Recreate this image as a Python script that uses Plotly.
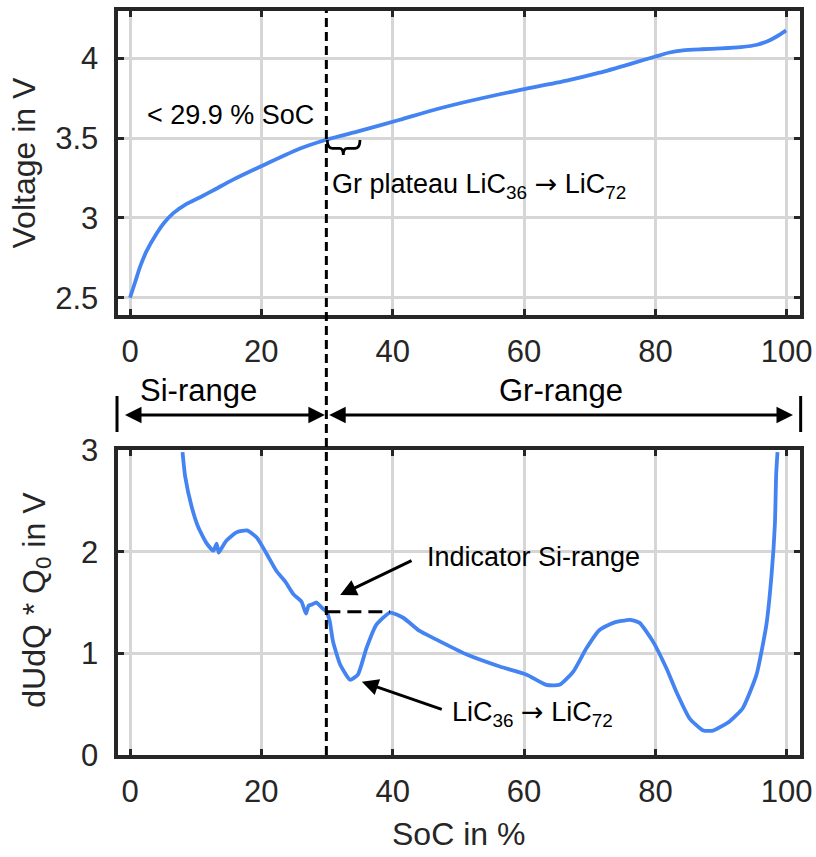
import plotly.graph_objects as go

# ---- data -------------------------------------------------------------
soc_voltage = [0.0, 0.8, 1.5, 2.5, 4.1, 5.2, 6.6, 8.5, 10.7, 13.0, 15.7, 20.8,
               25.9, 29.9, 35.0, 41.1, 46.1, 51.2, 56.3, 59.8, 66.5, 71.5,
               76.6, 79.9, 82.0, 84.2, 87.0, 90.0, 93.0, 95.5, 97.5, 99.0,
               99.9]
voltage = [2.50, 2.60, 2.69, 2.79, 2.906, 2.97, 3.03, 3.085, 3.13, 3.18, 3.24,
           3.34, 3.435, 3.49, 3.545, 3.615, 3.675, 3.728, 3.775, 3.805, 3.86,
           3.91, 3.97, 4.01, 4.035, 4.05, 4.057, 4.062, 4.07, 4.085, 4.115,
           4.15, 4.175]

soc_dudq = [8.0, 8.4, 9.4, 10.4, 11.7, 12.7, 13.2, 13.5, 13.8, 14.7, 16.2,
            17.8, 19.3, 20.8, 22.3, 23.6, 24.9, 26.1, 26.8, 27.2, 27.7, 28.4,
            29.2, 29.9, 30.4, 30.9, 32.0, 33.5, 34.7, 36.0, 37.5, 39.6, 41.6,
            44.1, 46.2, 51.2, 56.3, 60.4, 63.4, 65.4, 67.5, 69.5, 71.5, 73.6,
            76.1, 77.6, 79.6, 81.7, 83.2, 85.2, 87.3, 88.8, 91.3, 93.3, 95.4,
            96.9, 97.7, 98.2, 98.4, 98.6]
dudq = [2.98, 2.74, 2.44, 2.24, 2.08, 2.01, 2.08, 1.99, 2.02, 2.11, 2.19,
        2.21, 2.14, 1.98, 1.81, 1.71, 1.58, 1.51, 1.39, 1.47, 1.48, 1.50,
        1.45, 1.41, 1.32, 1.12, 0.89, 0.74, 0.79, 1.05, 1.28, 1.40, 1.35,
        1.22, 1.15, 0.99, 0.87, 0.79, 0.69, 0.69, 0.82, 1.05, 1.23, 1.30,
        1.33, 1.30, 1.12, 0.85, 0.62, 0.36, 0.24, 0.24, 0.33, 0.46, 0.79,
        1.28, 1.78, 2.27, 2.77, 2.98]

soc_ticks = [0, 20, 40, 60, 80, 100]
voltage_ticks = [2.5, 3, 3.5, 4]
dudq_ticks = [0, 1, 2, 3]

si_limit = 29.9          # SoC boundary between Si- and Gr-range
indicator_level = 1.41   # dUdQ value at the Si-range indicator
indicator_end = 39.6     # SoC where the indicator line ends

# ---- styling ----------------------------------------------------------
BLUE = "#4483f2"
INK = "#262626"
GRID = "#d6d6d6"
SANS = "Liberation Sans, Arial, sans-serif"
TICK_FONT = dict(family=SANS, size=31, color=INK)
TITLE_FONT = dict(family=SANS, size=32, color=INK)
NOTE_FONT = dict(family=SANS, size=27, color="black")
ARROW = '<span style="font-family:DejaVu Sans">\u2192</span>'

X_DOMAIN = [0.1440, 0.9798]
TOP_DOMAIN = [0.6324, 0.9877]
BOTTOM_DOMAIN = [0.1191, 0.4748]
X_RANGE = [-1.903, 101.95]


def axis_style(**kw):
    d = dict(
        showline=True, linewidth=4, linecolor=INK, mirror="ticks",
        ticks="inside", ticklen=6, tickwidth=2.5, tickcolor=INK,
        showgrid=True, gridcolor=GRID, gridwidth=2.5, zeroline=False,
        tickfont=TICK_FONT, fixedrange=True, automargin=False,
    )
    d.update(kw)
    return d


fig = go.Figure()
fig.add_trace(go.Scatter(
    x=soc_voltage, y=voltage, mode="lines", xaxis="x", yaxis="y",
    line=dict(color=BLUE, width=3.8, shape="spline", smoothing=0.6),
    showlegend=False, hoverinfo="skip"))
fig.add_trace(go.Scatter(
    x=soc_dudq, y=dudq, mode="lines", xaxis="x2", yaxis="y2",
    line=dict(color=BLUE, width=3.8, shape="spline", smoothing=0.5),
    showlegend=False, hoverinfo="skip"))

fig.update_layout(
    width=816, height=857, margin=dict(l=0, r=0, t=0, b=0, autoexpand=False),
    paper_bgcolor="white", plot_bgcolor="white",
    xaxis=axis_style(domain=X_DOMAIN, range=X_RANGE, tickvals=soc_ticks,
                     anchor="y", ticklabelstandoff=6),
    yaxis=axis_style(domain=TOP_DOMAIN, range=[2.3916, 4.2995],
                     tickvals=voltage_ticks, anchor="x", ticklabelstandoff=9),
    xaxis2=axis_style(domain=X_DOMAIN, range=X_RANGE, tickvals=soc_ticks,
                      anchor="y2", ticklabelstandoff=6),
    yaxis2=axis_style(domain=BOTTOM_DOMAIN, range=[0, 3],
                      tickvals=dudq_ticks, anchor="x2", ticklabelstandoff=9),
)

# Si/Gr boundary through both panels
shapes = [
    dict(type="line", xref="x", yref="paper", x0=si_limit, x1=si_limit,
         y0=BOTTOM_DOMAIN[0], y1=TOP_DOMAIN[1],
         line=dict(color="black", width=3, dash="9px,5px"), layer="above"),
    dict(type="line", xref="x2", yref="y2", x0=si_limit, x1=indicator_end,
         y0=indicator_level, y1=indicator_level,
         line=dict(color="black", width=3, dash="14px,7px"), layer="above"),
    # curly brace marking the graphite plateau
    dict(type="path", xref="x", yref="y",
         path=("M 30.04,3.488 Q 30.04,3.436 30.8,3.436 L 31.9,3.436 "
               "Q 32.48,3.436 32.48,3.394 Q 32.48,3.436 33.06,3.436 "
               "L 34.3,3.436 Q 35.02,3.436 35.02,3.488"),
         line=dict(color="black", width=2.8), layer="above"),
    # end bars of the range arrows
    dict(type="line", xref="paper", yref="paper", x0=0.1434, x1=0.1434,
         y0=0.4959, y1=0.5379, line=dict(color="black", width=3)),
    dict(type="line", xref="paper", yref="paper", x0=0.9812, x1=0.9812,
         y0=0.4959, y1=0.5379, line=dict(color="black", width=3)),
]
fig.update_layout(shapes=shapes)

ARROW_Y = 0.5158


def note(text, x, y, xref, yref, font=NOTE_FONT, xanchor="left", **kw):
    d = dict(x=x, y=y, xref=xref, yref=yref, text=text, showarrow=False,
             xanchor=xanchor, yanchor="middle", font=font)
    d.update(kw)
    return d


annotations = [
    # range arrows
    dict(x=-0.76, y=ARROW_Y, xref="x", yref="paper", ax=si_limit, ay=0,
         axref="x", ayref="pixel", text="", showarrow=True,
         arrowhead=2, arrowside="end+start", arrowsize=1.1, arrowwidth=3,
         arrowcolor="black", standoff=0, startstandoff=0),
    dict(x=100.96, y=ARROW_Y, xref="x", yref="paper", ax=si_limit + 0.2,
         ay=0, axref="x", ayref="pixel", text="", showarrow=True,
         arrowhead=2, arrowside="end+start", arrowsize=1.1, arrowwidth=3,
         arrowcolor="black", standoff=0, startstandoff=0),
    note("Si-range", 10.43, 0.5449, "x", "paper",
         font=dict(family=SANS, size=31, color="black"), xanchor="center"),
    note("Gr-range", 65.6, 0.5449, "x", "paper",
         font=dict(family=SANS, size=31, color="black"), xanchor="center"),
    # top panel notes
    note("< 29.9 % SoC", 2.28, 3.645, "x", "y"),
    note("Gr plateau LiC<sub>36</sub> " + ARROW + " LiC<sub>72</sub>",
         30.45, 3.206, "x", "y"),
    # bottom panel notes
    dict(x=32.0, y=1.575, xref="x2", yref="y2", ax=43.1, ay=1.92,
         axref="x2", ayref="y2", text="", showarrow=True, arrowhead=2,
         arrowsize=1.1, arrowwidth=3, arrowcolor="black", standoff=0),
    note("Indicator Si-range", 44.9, 1.95, "x2", "y2"),
    dict(x=35.3, y=0.72, xref="x2", yref="y2", ax=47.7, ay=0.443,
         axref="x2", ayref="y2", text="", showarrow=True, arrowhead=2,
         arrowsize=1.1, arrowwidth=3, arrowcolor="black", standoff=0),
    note("LiC<sub>36</sub> " + ARROW + " LiC<sub>72</sub>",
         48.8, 0.41, "x2", "y2"),
    # axis titles
    note("Voltage in V", 0.030, 0.8098, "paper", "paper", font=TITLE_FONT,
         xanchor="center", textangle=-90),
    note("dUdQ * Q<sub>0</sub> in V", 0.045, 0.2999, "paper", "paper",
         font=TITLE_FONT, xanchor="center", textangle=-90),
    note("SoC in %", 0.5613, 0.0268, "paper", "paper", font=TITLE_FONT,
         xanchor="center"),
]
fig.update_layout(annotations=annotations)

fig.write_html("out.html")
